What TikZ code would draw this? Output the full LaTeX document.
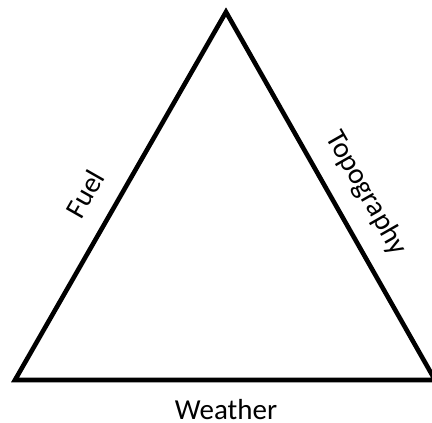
\documentclass[tikz,border=0pt]{standalone}
\usepackage{fontspec}
\setmainfont{Carlito}
\usetikzlibrary{positioning}

\begin{document}
\begin{tikzpicture}[
    x=1pt, y=1pt,
    edge/.style={line width=4.6pt, line join=miter},
    factor/.style={font=\fontsize{29}{34}\selectfont, inner sep=0pt},
]
    \useasboundingbox (0,0) rectangle (432,423);

    % Corners of the triangle
    \coordinate (apex) at (226,411);
    \coordinate (left) at (15,43);
    \coordinate (right) at (435,43);

    \draw[edge] (left) -- (apex) -- (right) -- cycle;

    % Factor labels
    \node[factor, rotate=60.3] (fuel) at (85,229) {Fuel};
    \node[factor, rotate=-60.3] (topo) at (366,230) {Topography};
    \node[factor] (weather) at (226,13) {Weather};
\end{tikzpicture}
\end{document}
